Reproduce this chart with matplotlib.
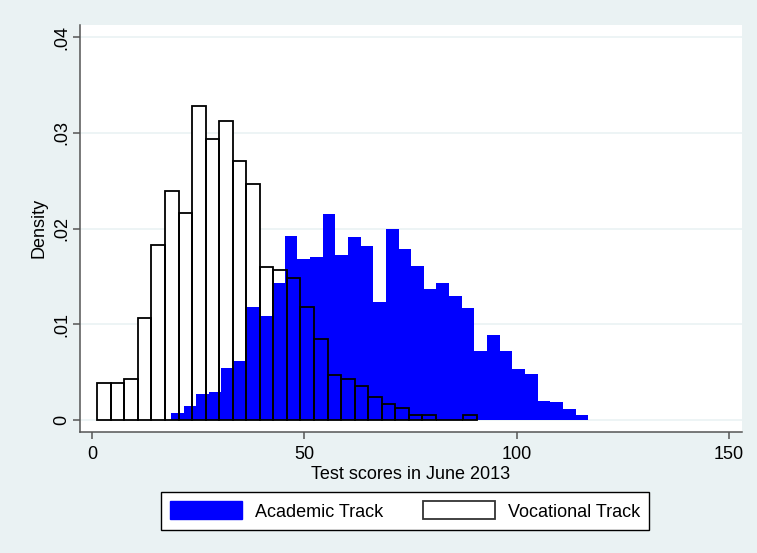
import matplotlib
matplotlib.use('Agg')
import matplotlib.pyplot as plt
import matplotlib.patches as mpatches
import numpy as np

plt.rcParams['font.family'] = ['Liberation Sans', 'DejaVu Sans']

# academic track histogram: 33 bins starting at 18.54, width 2.98
acad_start = 18.54
acad_width = 2.98
acad_density = [0.0007, 0.00146, 0.00272, 0.00286, 0.00537, 0.00614, 0.01179, 0.01091,
                0.0143, 0.01925, 0.01684, 0.01698, 0.02152, 0.01723, 0.01907, 0.01823,
                0.01234, 0.01998, 0.01785, 0.01608, 0.0137, 0.0143, 0.01297, 0.01168,
                0.00722, 0.00889, 0.00722, 0.0053, 0.00478, 0.00199, 0.00185, 0.00112,
                0.00049]

# vocational track histogram: 28 bins starting at 1.18, width 3.193
voc_start = 1.18
voc_width = 3.193
voc_density = [0.0039, 0.0039, 0.00429, 0.0107, 0.01827, 0.02395, 0.02165, 0.03277,
               0.02936, 0.0312, 0.0271, 0.02465, 0.01597, 0.01562, 0.01485, 0.01185,
               0.00844, 0.00471, 0.00429, 0.00352, 0.00241, 0.00164, 0.00126, 0.00052,
               0.00052, 0.0, 0.0, 0.00052]

xticks = [0, 50, 100, 150]
yticks = [0, 0.01, 0.02, 0.03, 0.04]
ylabels = ['0', '.01', '.02', '.03', '.04']

bg = '#eaf2f3'
axcol = '#555555'

fig = plt.figure(figsize=(7.57, 5.53), dpi=100, facecolor=bg)
ax = fig.add_axes([0.106, 0.219, 0.874, 0.736])
ax.set_facecolor('white')

acad_left = acad_start + acad_width * np.arange(len(acad_density))
voc_left = voc_start + voc_width * np.arange(len(voc_density))

ax.bar(voc_left, voc_density, width=voc_width, align='edge', color='white',
       edgecolor='none', zorder=2)
ax.bar(acad_left, acad_density, width=acad_width, align='edge', color='#0000ff',
       edgecolor='none', zorder=3)
ax.bar(voc_left, voc_density, width=voc_width, align='edge', fill=False,
       edgecolor='black', linewidth=1.3, zorder=4)

ax.set_xlim(-2.83, 153.1)
ax.set_ylim(-0.00126, 0.0413)
ax.set_xticks(xticks)
ax.set_yticks(yticks)
ax.set_yticklabels(ylabels, rotation=90, va='center')
ax.grid(axis='y', color=bg, linewidth=1.2, zorder=0)
ax.set_axisbelow(True)

for s in ['top', 'right']:
    ax.spines[s].set_visible(False)
for s in ['left', 'bottom']:
    ax.spines[s].set_color(axcol)
    ax.spines[s].set_linewidth(1.1)
ax.tick_params(axis='both', direction='out', length=5, width=1.1, color=axcol,
               labelsize=13, pad=5)
ax.tick_params(axis='y', pad=2)

ax.set_xlabel('Test scores in June 2013', fontsize=13, labelpad=2.5)
ax.set_ylabel('Density', fontsize=13, labelpad=4.5)

h1 = mpatches.Patch(facecolor='#0000ff', edgecolor='#0000ff', label='Academic Track')
h2 = mpatches.Patch(facecolor='white', edgecolor='#333333', linewidth=1.3, label='Vocational Track')
leg = fig.legend(handles=[h1, h2], loc='center', bbox_to_anchor=(405 / 757, 1 - 511 / 553),
                 ncol=2, fontsize=13, handlelength=4, handleheight=1.15,
                 handletextpad=0.7, columnspacing=2.2, borderpad=0.5,
                 fancybox=False, framealpha=1, edgecolor='black')
leg.get_frame().set_linewidth(1.0)

fig.savefig('out.png', dpi=100, facecolor=bg)
